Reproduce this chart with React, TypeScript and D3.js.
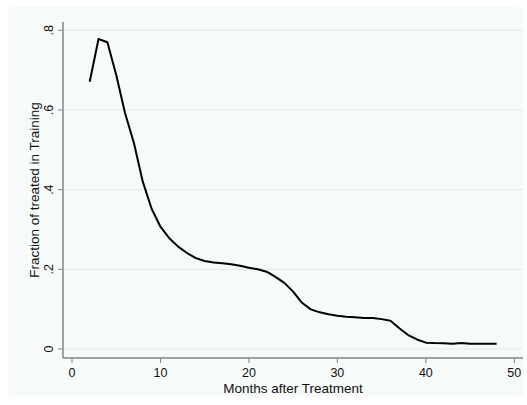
import React from "react";
import * as d3 from "d3";

const months = [2,3,4,5,6,7,8,9,10,11,12,13,14,15,16,17,18,19,20,21,22,23,24,25,26,27,28,29,30,31,32,33,34,35,36,37,38,39,40,41,42,43,44,45,46,47,48];
const fraction = [0.671,0.778,0.770,0.688,0.592,0.517,0.420,0.352,0.307,0.278,0.257,0.241,0.228,0.221,0.217,0.215,0.213,0.209,0.204,0.200,0.194,0.181,0.166,0.144,0.116,0.0996,0.092,0.087,0.0836,0.081,0.0795,0.078,0.078,0.075,0.071,0.052,0.035,0.024,0.016,0.015,0.0145,0.013,0.015,0.013,0.013,0.013,0.013];
const xTicks = [0,10,20,30,40,50];
const yTicks = [0,0.2,0.4,0.6,0.8];
const yTickLabels = ["0",".2",".4",".6",".8"];

export default function App() {
  const W = 527, H = 405;
  const left = 63, right = 523, top = 22, bottom = 358;
  const x = d3.scaleLinear().domain([0, 50]).range([72, 514.3]);
  const y = d3.scaleLinear().domain([0, 0.8]).range([349, 30.3]);
  const line = d3.line<number>().x((_, i) => x(months[i])).y((d) => y(d));
  const font = "'Liberation Sans', Arial, sans-serif";
  const axisColor = "#7d8782";
  return (
    <svg width={W} height={H} style={{ position: "absolute", left: 0, top: 0 }} fontFamily={font}>
      <rect x={0} y={0} width={W} height={H} fill="#ffffff" />
      <rect x={8} y={7} width={516} height={390} fill="#f6faf8" />
      {yTicks.map((t) => (
        <line key={"g" + t} x1={left} x2={right} y1={y(t)} y2={y(t)} stroke="#e4e8e6" strokeWidth={1} />
      ))}
      <path d={line(fraction) || ""} fill="none" stroke="#000" strokeWidth={2} strokeLinejoin="round" />
      <line x1={left} x2={left} y1={top} y2={bottom} stroke={axisColor} strokeWidth={1.5} />
      <line x1={left} x2={right} y1={bottom} y2={bottom} stroke={axisColor} strokeWidth={1.5} />
      {yTicks.map((t, i) => (
        <g key={"y" + t}>
          <line x1={left - 5} x2={left} y1={y(t)} y2={y(t)} stroke={axisColor} strokeWidth={1} />
          <text transform={`translate(52.5,${y(t)}) rotate(-90)`} textAnchor="middle" fontSize={12.5} fill="#111">
            {yTickLabels[i]}
          </text>
        </g>
      ))}
      {xTicks.map((t) => (
        <g key={"x" + t}>
          <line x1={x(t)} x2={x(t)} y1={bottom} y2={bottom + 5} stroke={axisColor} strokeWidth={1} />
          <text x={x(t)} y={376.5} textAnchor="middle" fontSize={12.5} fill="#111">
            {t}
          </text>
        </g>
      ))}
      <text x={(left + right) / 2} y={392.5} textAnchor="middle" fontSize={13.5} fill="#111">
        Months after Treatment
      </text>
      <text transform={`translate(39.3,${(top + bottom) / 2}) rotate(-90)`} textAnchor="middle" fontSize={13.5} fill="#111">
        Fraction of treated in Training
      </text>
    </svg>
  );
}
